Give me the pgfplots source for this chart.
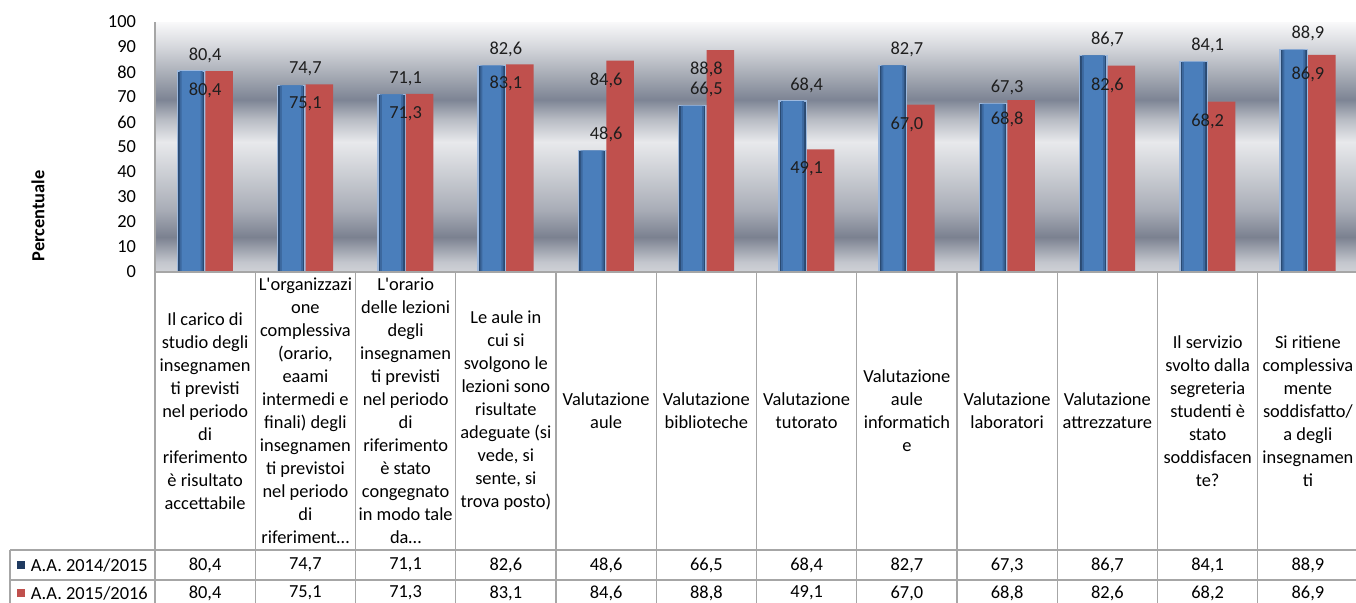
\documentclass[border=0pt]{standalone}
\usepackage{fontspec}
\setmainfont{Carlito}
\usepackage{pgfplots}
\pgfplotsset{compat=1.18}
\usepackage{pgfplotstable}

\definecolor{blueMid}{HTML}{4A7EBB}
\definecolor{blueMid2}{HTML}{3C689E}
\definecolor{blueDark}{HTML}{2A4A72}
\definecolor{blueEdge}{HTML}{9DB9DE}
\definecolor{redBar}{HTML}{C0504D}
\definecolor{navyKey}{HTML}{1F3A60}
\definecolor{gridc}{HTML}{A6A6A6}
\definecolor{labc}{HTML}{1E1E1E}
\definecolor{bga}{HTML}{D0D2D7}
\definecolor{bgb}{HTML}{C3C6CD}
\definecolor{bgc}{HTML}{7B8190}
\definecolor{bgd}{HTML}{A9ADB7}
\definecolor{bge}{HTML}{C8CBD1}
\definecolor{bgf}{HTML}{E8E9EC}
\definecolor{bgg}{HTML}{B8BCC4}
\definecolor{bgh}{HTML}{7D8494}
\definecolor{bgi}{HTML}{A3A8B2}
\definecolor{bgj}{HTML}{D5D7DC}
\definecolor{bgk}{HTML}{F9F9FA}
\pgfdeclareverticalshading{plotbg}{100bp}{color(0bp)=(bga); color(25bp)=(bga); color(27bp)=(bgb); color(32bp)=(bgc); color(37.5bp)=(bgd); color(44bp)=(bge); color(51bp)=(bgf); color(55.5bp)=(bgg); color(59.5bp)=(bgh); color(64bp)=(bgi); color(70bp)=(bgj); color(75bp)=(bgk); color(100bp)=(bgk)}

\pgfplotstableread{
x a b
0 80.4 80.4
1 74.7 75.1
2 71.1 71.3
3 82.6 83.1
4 48.6 84.6
5 66.5 88.8
6 68.4 49.1
7 82.7 67.0
8 67.3 68.8
9 86.7 82.6
10 84.1 68.2
11 88.9 86.9
}\datatable

\begin{document}
\begin{tikzpicture}[font=\fontsize{9.2}{11.5}\selectfont]
\path[use as bounding box] (-77.5pt,-165pt) rectangle (600.5pt,136pt);
\clip (-77.5pt,-165pt) rectangle (600.5pt,136pt);
\begin{axis}[
  at={(0pt,0pt)}, anchor=south west, scale only axis,
  width=601.5pt, height=125pt,
  xmin=-0.5, xmax=11.5, ymin=0, ymax=100,
  axis line style={draw=none},
  xtick={0,...,11},
  xticklabels={
    {Il carico di\\studio degli\\insegnamen\\ti previsti\\nel periodo\\di\\riferimento\\è risultato\\accettabile},
    {L\textquotesingle organizzazi\\one\\complessiva\\(orario,\\eaami\\intermedi e\\finali) degli\\insegnamen\\ti previstoi\\nel periodo\\di\\riferiment…},
    {L\textquotesingle orario\\delle lezioni\\degli\\insegnamen\\ti previsti\\nel periodo\\di\\riferimento\\è stato\\congegnato\\in modo tale\\da…},
    {Le aule in\\cui si\\svolgono le\\lezioni sono\\risultate\\adeguate (si\\vede, si\\sente, si\\trova posto)},
    {Valutazione\\aule},
    {Valutazione\\biblioteche},
    {Valutazione\\tutorato},
    {Valutazione\\aule\\informatich\\e},
    {Valutazione\\laboratori},
    {Valutazione\\attrezzature},
    {Il servizio\\svolto dalla\\segreteria\\studenti è\\stato\\soddisfacen\\te?},
    {Si ritiene\\complessiva\\mente\\soddisfatto/\\a degli\\insegnamen\\ti}
  },
  ytick={0,10,...,100},
  major tick length=0pt,
  yticklabel style={xshift=-6pt},
  xticklabel style={anchor=center, yshift=-69.5pt, align=center},
  /pgf/number format/assume math mode=true,
  axis background/.style={shade, shading=plotbg},
  clip=false,
]
\addplot[ybar, bar width=13.75pt, bar shift=-7pt, draw=blueEdge, line width=0.7pt,
  fill=blueDark,
  point meta=y,
  nodes near coords={\pgfmathprintnumber[fixed,fixed zerofill,precision=1,use comma]{\pgfplotspointmeta}},
  every node near coord/.append style={anchor=center, yshift=8pt, text=labc}]
  table[x=x, y=a] {\datatable};
\addplot[ybar, bar width=11.5pt, bar shift=-7pt, draw=none, fill=blueMid2, forget plot]
  table[x=x, y=a] {\datatable};
\addplot[ybar, bar width=9.5pt, bar shift=-7pt, draw=none, fill=blueMid, forget plot]
  table[x=x, y=a] {\datatable};
\addplot[ybar, bar width=13.75pt, bar shift=7pt, draw=none, fill=redBar,
  point meta=y,
  nodes near coords={\pgfmathprintnumber[fixed,fixed zerofill,precision=1,use comma]{\pgfplotspointmeta}},
  every node near coord/.append style={anchor=center, yshift=-9.8pt, text=labc}]
  table[x=x, y=b] {\datatable};
\addplot[draw=none, mark=none, forget plot, point meta=explicit,
  nodes near coords={\pgfmathprintnumber[fixed,fixed zerofill,precision=1,use comma]{\pgfplotspointmeta}},
  every node near coord/.append style={anchor=center, text=black}]
  table[x=x, y expr=-117.2, meta=a] {\datatable};
\addplot[draw=none, mark=none, forget plot, point meta=explicit,
  nodes near coords={\pgfmathprintnumber[fixed,fixed zerofill,precision=1,use comma]{\pgfplotspointmeta}},
  every node near coord/.append style={anchor=center, text=black}]
  table[x=x, y expr=-128.4, meta=b] {\datatable};
\end{axis}
\begin{scope}[draw=gridc, line width=0.6pt]
\draw (0pt,125pt) -- (0pt,-170pt);
\draw (0pt,0pt) -- (601.5pt,0pt);
\foreach \k in {1,...,12} \draw (\k*50.125pt,0pt) -- (\k*50.125pt,-170pt);
\draw (-72.5pt,-139pt) -- (601.5pt,-139pt);
\draw (-72.5pt,-154pt) -- (601.5pt,-154pt);
\draw (-72.5pt,-139pt) -- (-72.5pt,-170pt);
\end{scope}
\node[anchor=west, inner sep=0pt] at (-69.2pt,-146.5pt) {\textcolor{navyKey}{\raisebox{0.9pt}{\rule{4pt}{4pt}}}\hspace{3pt}A.A. 2014/2015};
\node[anchor=west, inner sep=0pt] at (-69.2pt,-160.5pt) {\textcolor{redBar}{\raisebox{0.9pt}{\rule{4pt}{4pt}}}\hspace{3pt}A.A. 2015/2016};
\node[rotate=90, font=\fontsize{9.2}{11.5}\selectfont\bfseries] at (-58.5pt,28pt) {Percentuale};
\end{tikzpicture}
\end{document}
